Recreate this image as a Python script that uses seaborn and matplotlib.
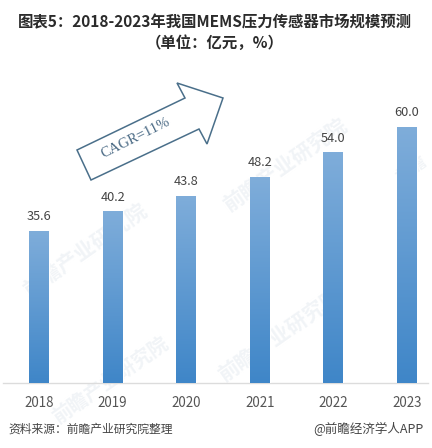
import numpy as np
import pandas as pd
import matplotlib
matplotlib.use("Agg")
import matplotlib.pyplot as plt
from matplotlib.colors import LinearSegmentedColormap
from matplotlib.patches import Polygon
import seaborn as sns

years = ["2018", "2019", "2020", "2021", "2022", "2023"]
values = [35.6, 40.2, 43.8, 48.2, 54.0, 60.0]
title = "图表5：2018-2023年我国MEMS压力传感器市场规模预测\n（单位：亿元，%）"
source = "资料来源：前瞻产业研究院整理"
credit = "@前瞻经济学人APP"
cagr = "CAGR=11%"
watermark = "前瞻产业研究院"
watermark_short = "前瞻"

sns.set_theme(style="white")
plt.rcParams["font.family"] = ["Noto Sans CJK SC", "DejaVu Sans"]

W, H = 432, 448
fig = plt.figure(figsize=(W / 100, H / 100), dpi=100)
ax = fig.add_axes([3 / W, 1 - 383 / H, 425 / W, 343 / H])
df = pd.DataFrame({"year": years, "value": values})
sns.barplot(data=df, x="year", y="value", width=0.27, color="#3f86c8", ax=ax, zorder=3)
ax.set_xlabel("")
ax.set_ylabel("")
ax.set_yticks([])
ax.patch.set_alpha(0)
for s in ["top", "left", "right"]:
    ax.spines[s].set_visible(False)
ax.spines["bottom"].set_color("#dcdcdc")
ax.spines["bottom"].set_linewidth(1)
ax.tick_params(axis="x", length=0, pad=9.5, labelsize=9.6, labelcolor="#555555")

cmap = LinearSegmentedColormap.from_list("bar", ["#3f86c8", "#7fadda"])
grad = np.linspace(0, 1, 128).reshape(-1, 1)
for bar, v in zip(ax.patches, values):
    x0, w = bar.get_x(), bar.get_width()
    im = ax.imshow(grad, extent=(x0, x0 + w, 0, v), origin="lower", aspect="auto",
                   cmap=cmap, zorder=3.5)
    im.set_clip_path(bar)
    ax.annotate(f"{v:.1f}", (x0 + w / 2, v), xytext=(0, 5.5), textcoords="offset points",
                ha="center", va="bottom", fontsize=9.2, color="#444444", zorder=5)
ax.set_xlim(-0.489, 5.285)
ax.set_ylim(0, 80.3)

def fx(x):
    return x / W
def fy(y):
    return 1 - y / H

for (x, y, size, txt) in [(85, 250, 15, watermark), (285, 165, 15, watermark), (110, 380, 14, watermark),
                          (280, 335, 15, watermark), (411, 170, 12, watermark_short)]:
    fig.text(fx(x), fy(y), txt, fontsize=size, rotation=35, color="#f1f4f7",
             ha="center", va="center", fontweight="bold", zorder=-1)

line1, line2 = title.split("\n")
fig.text(fx(215), fy(22), line1, ha="center", va="center", fontsize=11.1,
         fontweight="bold", color="#2b2b2b")
fig.text(fx(215), fy(43), line2, ha="center", va="center", fontsize=11.1,
         fontweight="bold", color="#2b2b2b")

arrow_px = [(77, 150), (91, 180), (199, 129), (207, 144), (223, 98), (177, 83), (185, 98)]
fig.add_artist(Polygon([(fx(x), fy(y)) for x, y in arrow_px], closed=True, fill=False,
                       edgecolor="#4a6f8a", linewidth=1.1, transform=fig.transFigure))
fig.text(fx(136), fy(138), cagr, rotation=26.5, rotation_mode="anchor", ha="center", va="center",
         fontsize=10.5, family=["Liberation Serif"], color="#4a6a85")

fig.text(fx(8), fy(429), source, ha="left", va="center", fontsize=8.5, color="#444444")
fig.text(fx(424), fy(429), credit, ha="right", va="center", fontsize=9, color="#444444")

fig.savefig("out.png", dpi=100)
